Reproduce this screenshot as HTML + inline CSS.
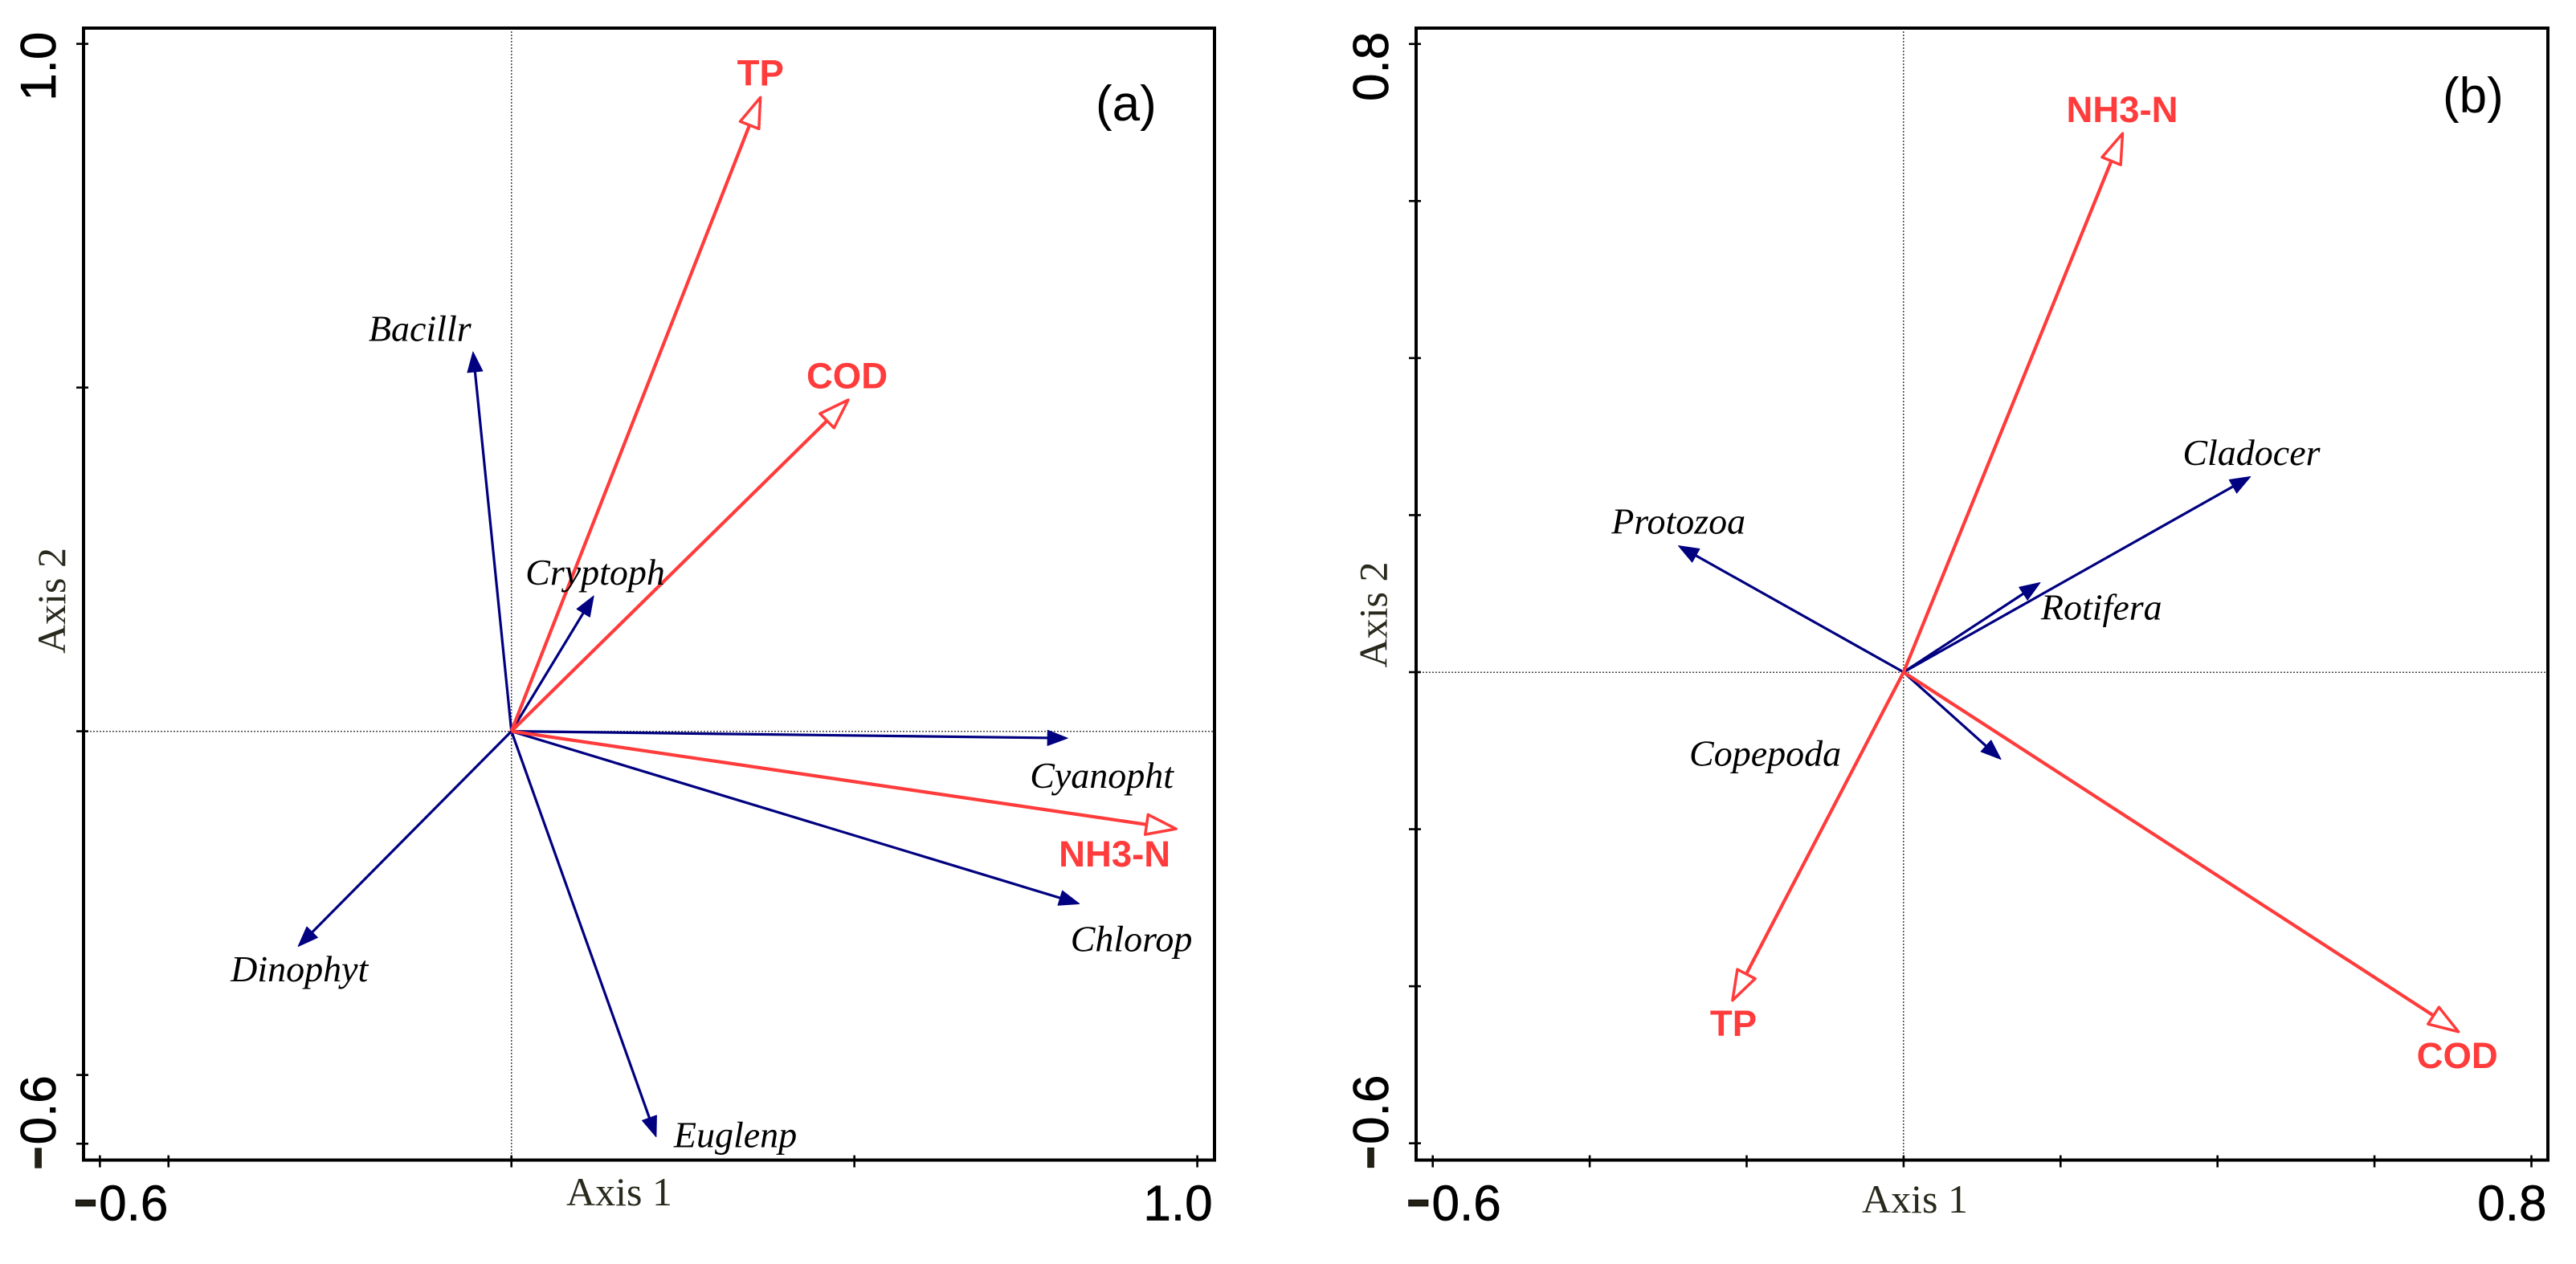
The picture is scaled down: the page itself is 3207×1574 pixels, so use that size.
<!DOCTYPE html>
<html lang="en">
<head>
<meta charset="utf-8">
<title>RDA ordination biplots</title>
<style>
html,body{margin:0;padding:0;background:#fff;}
svg{display:block;}
.species{font-family:"Liberation Serif",serif;font-style:italic;font-size:46px;fill:#000;}
.env{font-family:"Liberation Sans",sans-serif;font-weight:bold;font-size:45.5px;fill:#ff3b3b;}
.tick-text{font-family:"Liberation Sans",sans-serif;font-size:62px;fill:#000;stroke:#000;stroke-width:0.7px;}
.axis-title{font-family:"Liberation Serif",serif;font-size:50px;fill:#2a291d;}
.panel-tag{font-family:"Liberation Sans",sans-serif;font-size:62px;fill:#000;}
</style>
</head>
<body>
<svg id="chart" xmlns="http://www.w3.org/2000/svg" width="3207" height="1574" viewBox="0 0 3207 1574">
<rect x="0" y="0" width="3207" height="1574" fill="#fff"/>
</svg>
<script>
// Panel (a) values
const speciesNamesA = ['Bacillr', 'Cryptoph', 'Cyanopht', 'Chlorop', 'Euglenp', 'Dinophyt'];
const speciesAxis1A = [-0.056, 0.120, 0.811, 0.828, 0.211, -0.311];
const speciesAxis2A = [0.552, 0.197, -0.010, -0.251, -0.590, -0.313];
const envNamesA = ['TP', 'COD', 'NH3-N'];
const envAxis1A = [0.363, 0.491, 0.969];
const envAxis2A = [0.922, 0.482, -0.142];
const xTicksA = [-0.6, -0.5, 0, 0.5, 1.0];
const yTicksA = [1.0, 0.5, 0, -0.5, -0.6];
const xTickLabelsA = ['-0.6', '', '', '', '1.0'];
const yTickLabelsA = ['1.0', '', '', '', '-0.6'];

// Panel (b) values
const speciesNamesB = ['Protozoa', 'Cladocer', 'Rotifera', 'Copepoda'];
const speciesAxis1B = [-0.287, 0.442, 0.174, 0.124];
const speciesAxis2B = [0.161, 0.249, 0.114, -0.111];
const envNamesB = ['NH3-N', 'COD', 'TP'];
const envAxis1B = [0.279, 0.707, -0.218];
const envAxis2B = [0.686, -0.458, -0.418];
const xTicksB = [-0.6, -0.4, -0.2, 0, 0.2, 0.4, 0.6, 0.8];
const yTicksB = [0.8, 0.6, 0.4, 0.2, 0, -0.2, -0.4, -0.6];
const xTickLabelsB = ['-0.6', '', '', '', '', '', '', '0.8'];
const yTickLabelsB = ['0.8', '', '', '', '', '', '', '-0.6'];

const SVG_NS = 'http://www.w3.org/2000/svg';
const svg = document.getElementById('chart');
const RED = '#ff3b3b';
const NAVY = '#000080';

function make(parent, tag, attrs) {
  const node = document.createElementNS(SVG_NS, tag);
  for (const key in attrs) node.setAttribute(key, attrs[key]);
  parent.appendChild(node);
  return node;
}
function slug(text) {
  return text.toLowerCase().replace(/[^a-z0-9]+/g, '-');
}
function makeXAxis(x0, unit) {
  return function (v) { return x0 + v * unit; };
}
function makeYAxis(y0, unit) {
  return function (v) { return y0 - v * unit; };
}
function direction(x0, y0, x1, y1) {
  const len = Math.hypot(x1 - x0, y1 - y0);
  return { ux: (x1 - x0) / len, uy: (y1 - y0) / len };
}
function headPoints(tx, ty, d, length, width) {
  const bx = tx - d.ux * length, by = ty - d.uy * length;
  const px = -d.uy * width / 2, py = d.ux * width / 2;
  return [tx + ',' + ty, (bx + px) + ',' + (by + py), (bx - px) + ',' + (by - py)].join(' ');
}
function drawSpeciesArrow(group, name, tipX, tipY, ox, oy) {
  const d = direction(ox, oy, tipX, tipY);
  const arrow = make(group, 'g', {});
  
  
  make(arrow, 'line', { x1: ox, y1: oy, x2: tipX - d.ux * 20, y2: tipY - d.uy * 20, stroke: NAVY, 'stroke-width': 3.2 });
  make(arrow, 'polygon', { points: headPoints(tipX, tipY, d, 25, 19), fill: NAVY, stroke: NAVY, 'stroke-width': 1, 'stroke-linejoin': 'round' });
}
function drawEnvArrow(group, name, tipX, tipY, ox, oy) {
  const d = direction(ox, oy, tipX, tipY);
  const arrow = make(group, 'g', {});
  
  
  make(arrow, 'line', { x1: ox, y1: oy, x2: tipX - d.ux * 36, y2: tipY - d.uy * 36, stroke: RED, 'stroke-width': 4.2 });
  make(arrow, 'polygon', { points: headPoints(tipX, tipY, d, 37, 25), fill: '#fff', stroke: RED, 'stroke-width': 3.5, 'stroke-linejoin': 'round' });
}
function placeLabel(group, className, name, x, y) {
  const label = make(group, 'text', { class: className, x: x, y: y });
  label.textContent = name;
  
  
}
function writeTickText(node, text) {
  if (text.charAt(0) === '-') {
    const minus = make(node, 'tspan', { 'font-size': '100', dy: '5', fill: '#222014' });
    minus.textContent = '-';
    const rest = make(node, 'tspan', { dy: '-5' });
    rest.textContent = text.slice(1);
  } else {
    node.textContent = text;
  }
}

function drawPanel(id, box, xAxis, yAxis, xTicks, yTicks, xLabels, yLabels) {
  const panel = make(svg, 'g', {});
  
  
  const ox = xAxis(0), oy = yAxis(0);

  const vGuide = make(panel, 'line', { x1: ox, y1: box.top, x2: ox, y2: box.bottom, stroke: '#444', 'stroke-width': 1.5, 'stroke-dasharray': '2 2', 'shape-rendering': 'crispEdges' });
  
  
  const hGuide = make(panel, 'line', { x1: box.left, y1: oy, x2: box.right, y2: oy, stroke: '#444', 'stroke-width': 1.5, 'stroke-dasharray': '2 2', 'shape-rendering': 'crispEdges' });
  
  

  const frame = make(panel, 'rect', { x: box.left, y: box.top, width: box.right - box.left, height: box.bottom - box.top, fill: 'none', stroke: '#000', 'stroke-width': 4 });
  
  

  const xAxisGroup = make(panel, 'g', {});
  
  
  xTicks.forEach(function (v, i) {
    const x = xAxis(v);
    const tick = make(xAxisGroup, 'line', { x1: x, y1: box.bottom - 6, x2: x, y2: box.bottom + 9, stroke: '#000', 'stroke-width': 2.6 });
    
    
    if (xLabels[i]) {
      const shift = i === 0 ? 85 : 19;
      const text = make(xAxisGroup, 'text', { class: 'tick-text', x: x + shift, y: 1519.6, 'text-anchor': 'end' });
      writeTickText(text, xLabels[i]);
      
      
    }
  });

  const yAxisGroup = make(panel, 'g', {});
  
  
  yTicks.forEach(function (v, i) {
    const y = yAxis(v);
    const tick = make(yAxisGroup, 'line', { x1: box.left - 9, y1: y, x2: box.left + 6, y2: y, stroke: '#000', 'stroke-width': 2.6 });
    
    
    if (yLabels[i]) {
      const shift = v > 0 ? -15 : -85;
      const lx = box.left - 35, ly = y + shift;
      const text = make(yAxisGroup, 'text', { class: 'tick-text', x: lx, y: ly, 'text-anchor': 'end', transform: 'rotate(-90 ' + lx + ' ' + ly + ')' });
      writeTickText(text, yLabels[i]);
      
      
    }
  });

  const titleX = make(panel, 'text', { class: 'axis-title', x: box.xTitleX, y: box.xTitleY });
  titleX.textContent = 'Axis 1';
  
  
  const titleY = make(panel, 'text', { class: 'axis-title', x: box.yTitleX, y: box.yTitleY, 'text-anchor': 'middle', transform: 'rotate(-90 ' + box.yTitleX + ' ' + box.yTitleY + ')' });
  titleY.textContent = 'Axis 2';
  
  

  const tag = make(panel, 'text', { class: 'panel-tag', x: box.tagX, y: box.tagY });
  tag.textContent = '(' + id + ')';
  
  

  return panel;
}

// ---------- Panel (a) ----------
const xA = makeXAxis(636.7, 853.9);
const yA = makeYAxis(910.6, 856);
const panelA = drawPanel('a',
  { left: 104, top: 35, right: 1512, bottom: 1444.6, xTitleX: 705, xTitleY: 1501, yTitleX: 81, yTitleY: 748, tagX: 1364, tagY: 150 },
  xA, yA, xTicksA, yTicksA, xTickLabelsA, yTickLabelsA);
speciesNamesA.forEach(function (name, i) {
  drawSpeciesArrow(panelA, name, xA(speciesAxis1A[i]), yA(speciesAxis2A[i]), xA(0), yA(0));
});
envNamesA.forEach(function (name, i) {
  drawEnvArrow(panelA, name, xA(envAxis1A[i]), yA(envAxis2A[i]), xA(0), yA(0));
});
function labelA(i, dx, dy) {
  placeLabel(panelA, 'species', speciesNamesA[i], xA(speciesAxis1A[i]) + dx, yA(speciesAxis2A[i]) + dy);
}
function envLabelA(i, dx, dy) {
  placeLabel(panelA, 'env', envNamesA[i], xA(envAxis1A[i]) + dx, yA(envAxis2A[i]) + dy);
}
labelA(0, -130, -13.5);
labelA(1, -85, -14);
labelA(2, -47, 62);
labelA(3, -11, 59.2);
labelA(4, 22, 12.8);
labelA(5, -84, 43.4);
envLabelA(0, -29, -15);
envLabelA(1, -52, -14.3);
envLabelA(2, -146, 46.9);

// ---------- Panel (b) ----------
const xB = makeXAxis(2369.9, 977);
const yB = makeYAxis(837, 977.8);
const panelB = drawPanel('b',
  { left: 1763, top: 35, right: 3172, bottom: 1444.6, xTitleX: 2318, xTitleY: 1510, yTitleX: 1726.5, yTitleY: 765.5, tagX: 3041, tagY: 140 },
  xB, yB, xTicksB, yTicksB, xTickLabelsB, yTickLabelsB);
speciesNamesB.forEach(function (name, i) {
  drawSpeciesArrow(panelB, name, xB(speciesAxis1B[i]), yB(speciesAxis2B[i]), xB(0), yB(0));
});
envNamesB.forEach(function (name, i) {
  drawEnvArrow(panelB, name, xB(envAxis1B[i]), yB(envAxis2B[i]), xB(0), yB(0));
});
function labelB(i, dx, dy) {
  placeLabel(panelB, 'species', speciesNamesB[i], xB(speciesAxis1B[i]) + dx, yB(speciesAxis2B[i]) + dy);
}
function envLabelB(i, dx, dy) {
  placeLabel(panelB, 'env', envNamesB[i], xB(envAxis1B[i]) + dx, yB(envAxis2B[i]) + dy);
}
labelB(0, -83.3, -15);
labelB(1, -84.4, -14.4);
labelB(2, 1, 46);
labelB(3, -388, 7.9);
envLabelB(0, -70, -14.3);
envLabelB(1, -52, 45.4);
envLabelB(2, -28, 44.4);
</script>
</body>
</html>
